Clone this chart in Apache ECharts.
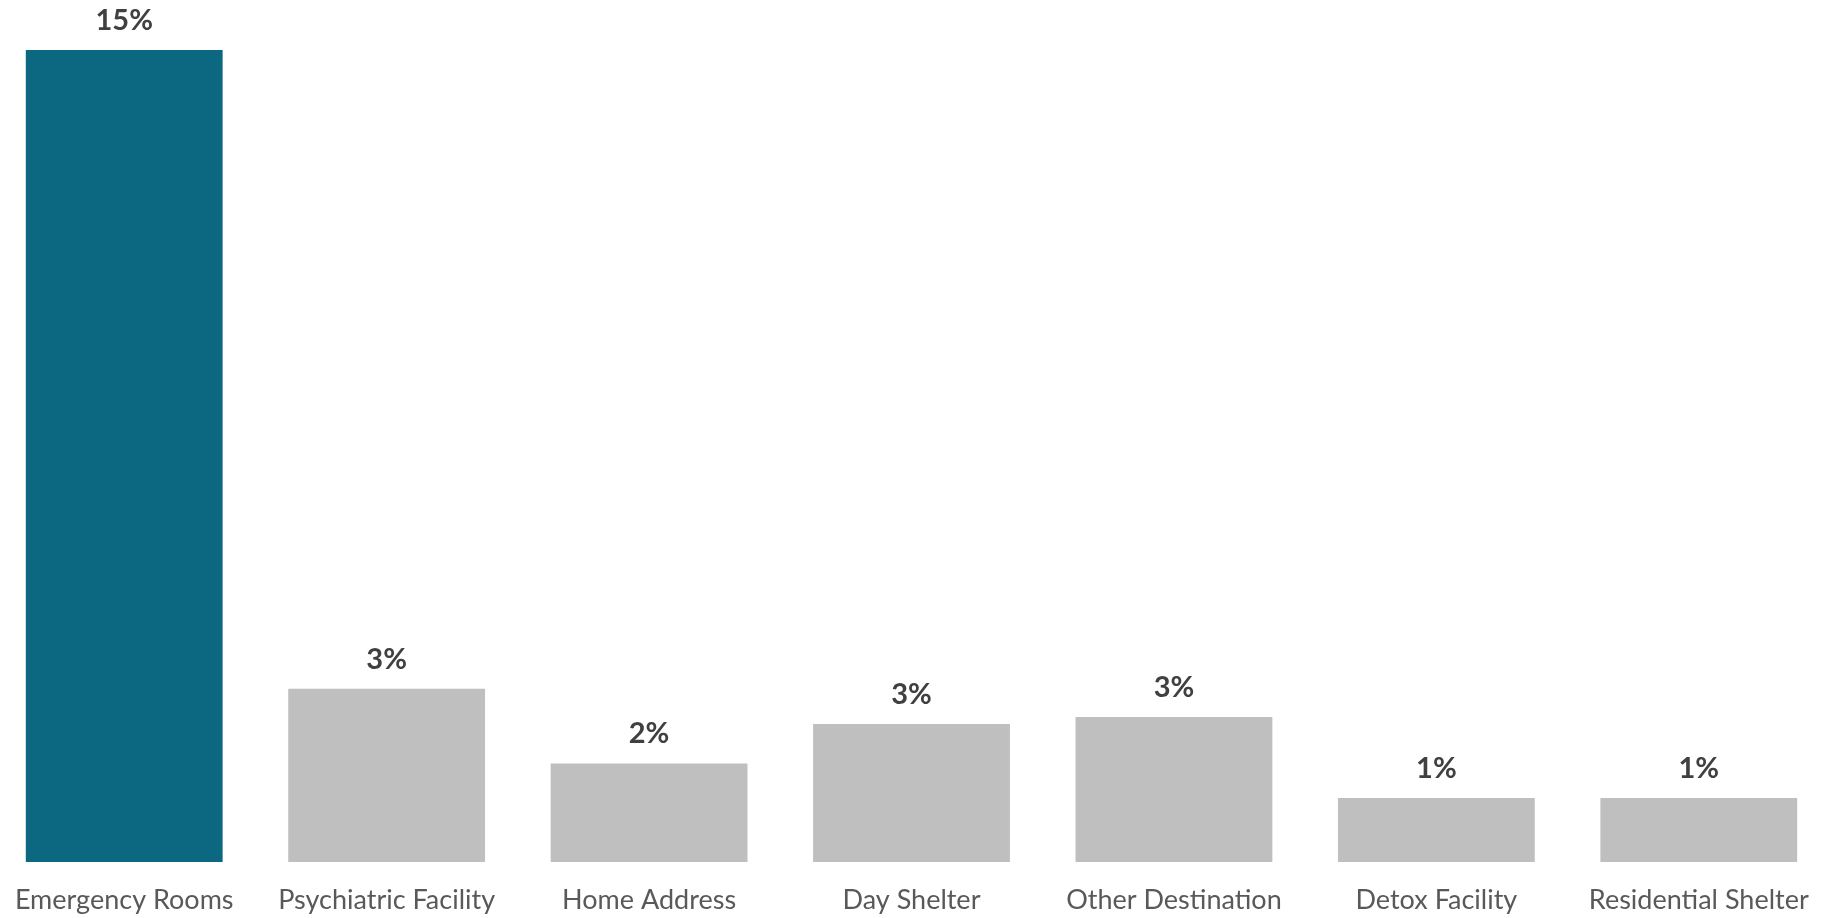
<!DOCTYPE html>
<html>
<head>
    <meta charset="utf-8">
    <title>Destinations</title>
    <script src="https://cdn.jsdelivr.net/npm/echarts@6/dist/echarts.min.js"></script>
    <style>
        html, body { margin: 0; padding: 0; background: #fff; }
    </style>
</head>
<body>
    <div id="main" style="width:1822px;height:918px;"></div>
    <script type="text/javascript">
        // categories and values (percent)
        var categories = ['Emergency Rooms', 'Psychiatric Facility', 'Home Address', 'Day Shelter', 'Other Destination', 'Detox Facility', 'Residential Shelter'];
        var values = [15.0, 3.2, 1.82, 2.55, 2.68, 1.18, 1.18];
        var highlightIndex = 0;

        var barData = values.map(function (v, i) {
            return {
                value: v,
                itemStyle: { color: i === highlightIndex ? '#0C6780' : '#BFBFBF' }
            };
        });

        var myChart = echarts.init(document.getElementById('main'));
        myChart.setOption({
            animation: false,
            grid: {
                left: -7,
                right: -8,
                top: 50,
                bottom: 56,
                containLabel: false,
                outerBoundsMode: 'none'
            },
            xAxis: {
                type: 'category',
                data: categories,
                axisLine: { show: false },
                axisTick: { show: false },
                axisLabel: {
                    interval: 0,
                    margin: 25,
                    color: '#595959',
                    fontFamily: 'Lato',
                    fontSize: 27,
                    lineHeight: 27
                }
            },
            yAxis: {
                type: 'value',
                min: 0,
                max: 15,
                show: false
            },
            series: [
                {
                    type: 'bar',
                    data: barData,
                    barCategoryGap: '25%',
                    label: {
                        show: true,
                        position: 'top',
                        distance: 15,
                        color: '#404040',
                        fontFamily: 'Lato',
                        fontWeight: 'bold',
                        fontSize: 29,
                        lineHeight: 29,
                        formatter: function (p) { return Math.round(p.value) + '%'; }
                    }
                }
            ]
        });
    </script>
</body>
</html>
